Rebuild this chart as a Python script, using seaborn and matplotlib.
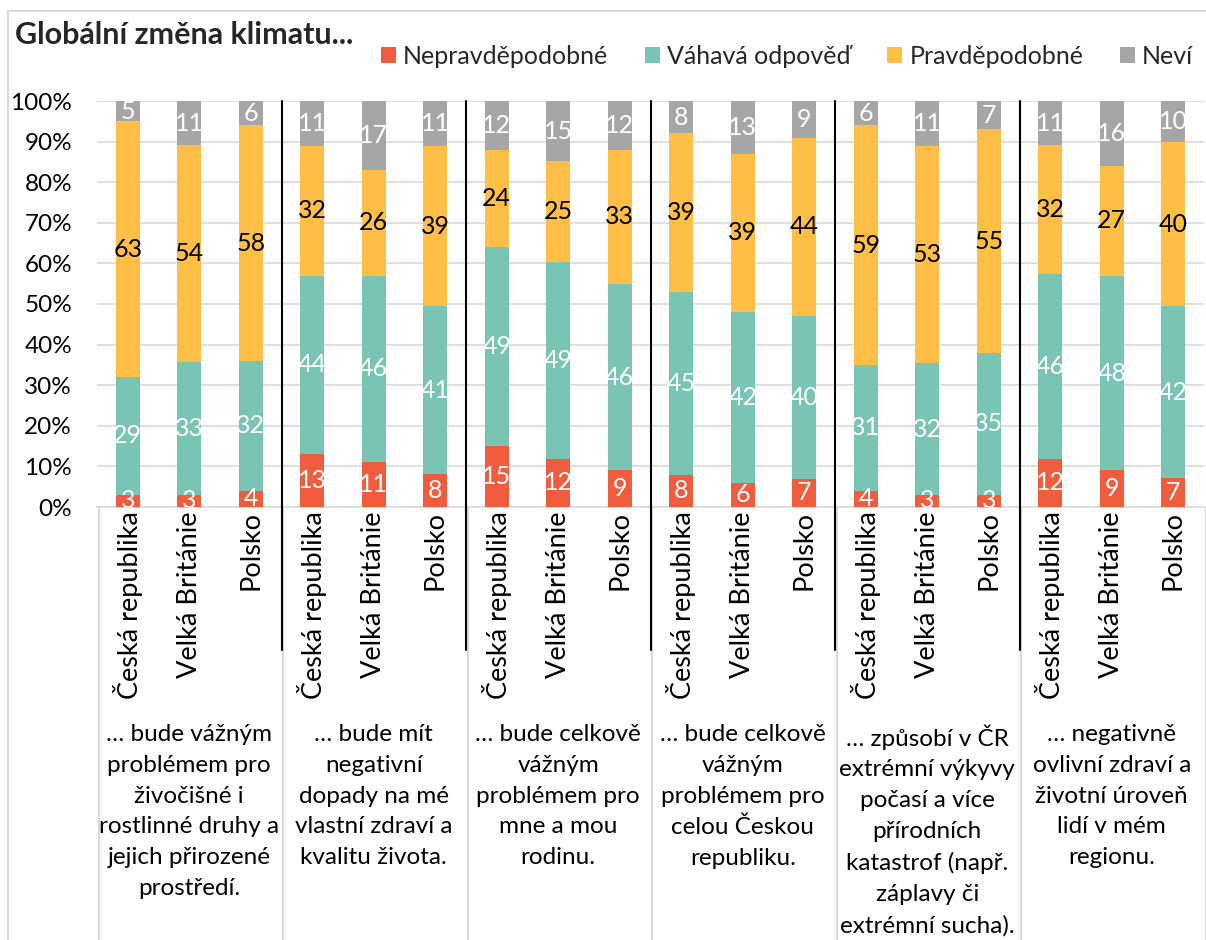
import numpy as np
import pandas as pd
import seaborn as sns
import matplotlib.pyplot as plt
from matplotlib.patches import Patch
from matplotlib.lines import Line2D

# data: bottom -> top (Nepravděpodobné, Váhavá odpověď, Pravděpodobné, Neví)
countries = ['Česká republika', 'Velká Británie', 'Polsko']
groups = ['… bude vážným\nproblémem pro\nživočišné i\nrostlinné druhy a\njejich přirozené\nprostředí.',
          '… bude mít\nnegativní\ndopady na mé\nvlastní zdraví a\nkvalitu života.',
          '… bude celkově\nvážným\nproblémem pro\nmne a mou\nrodinu.',
          '… bude celkově\nvážným\nproblémem pro\ncelou Českou\nrepubliku.',
          '… způsobí v ČR\nextrémní výkyvy\npočasí a více\npřírodních\nkatastrof (např.\nzáplavy či\nextrémní sucha).',
          '… negativně\novlivní zdraví a\nživotní úroveň\nlidí v mém\nregionu.']
series = ['Nepravděpodobné', 'Váhavá odpověď', 'Pravděpodobné', 'Neví']
nepravdepodobne = [3, 3, 4, 13, 11, 8, 15, 12, 9, 8, 6, 7, 4, 3, 3, 12, 9, 7]
vahava = [29, 33, 32, 44, 46, 41, 49, 49, 46, 45, 42, 40, 31, 32, 35, 46, 48, 42]
pravdepodobne = [63, 54, 58, 32, 26, 39, 24, 25, 33, 39, 39, 44, 59, 53, 55, 32, 27, 40]
nevi = [5, 11, 6, 11, 17, 11, 12, 15, 12, 8, 13, 9, 6, 11, 7, 11, 16, 10]

colors = ['#F05C3E', '#7AC4B4', '#FFBF47', '#A6A6A6']
label_colors = ['white', 'white', 'black', 'white']

sns.set_theme(style='white')
plt.rcParams['font.family'] = ['Lato', 'DejaVu Sans']

vals = np.array([nepravdepodobne, vahava, pravdepodobne, nevi], dtype=float)
shares = vals / vals.sum(axis=0) * 100
cum = np.cumsum(shares, axis=0)
bar_ids = [f'{g}_{c}' for g in range(len(groups)) for c in range(len(countries))]

df = pd.DataFrame({'bar': bar_ids})
for i, s in enumerate(series):
    df[s] = cum[i]

fig = plt.figure(figsize=(12.06, 9.40), dpi=100)
ax = fig.add_axes([97 / 1206, 1 - 507 / 940, 1107 / 1206, 406 / 940])

# stacked bars: draw cumulative totals from top to bottom
for i in range(len(series) - 1, -1, -1):
    sns.barplot(data=df, x='bar', y=series[i], order=bar_ids, color=colors[i],
                width=0.39, ax=ax, saturation=1, linewidth=0, zorder=3)

# data labels
for j in range(len(bar_ids)):
    for i in range(len(series)):
        y0 = cum[i][j] - shares[i][j]
        ax.text(j, y0 + shares[i][j] / 2, f'{int(vals[i][j])}', ha='center', va='center',
                fontsize=18, color=label_colors[i], zorder=5, clip_on=True)

ax.set_xlim(-0.5, len(bar_ids) - 0.5)
ax.set_ylim(0, 100)
ax.set_yticks(np.arange(0, 101, 10))
ax.set_yticklabels([f'{t}%' for t in range(0, 101, 10)], fontsize=17.5, color='black')
ax.yaxis.grid(True, color='#D9D9D9', lw=1.2, zorder=0)
ax.set_xticks(range(len(bar_ids)))
ax.set_xticklabels(countries * len(groups), rotation=90, fontsize=19.5, color='black', va='top')
ax.tick_params(axis='both', length=0, pad=3)
ax.tick_params(axis='y', pad=18)
ax.set_xlabel('')
ax.set_ylabel('')
for side in ['left', 'right', 'top']:
    ax.spines[side].set_visible(False)
ax.spines['bottom'].set_color('#D9D9D9')
ax.spines['bottom'].set_linewidth(1.2)

tr = ax.get_xaxis_transform()
for g in range(len(groups) + 1):
    xb = g * 3 - 0.5
    ax.add_line(Line2D([xb + 0.03, xb + 0.03], [-1.1, 0], transform=tr, color='#D9D9D9',
                       lw=1.5, clip_on=False, zorder=1))
    if 0 < g < len(groups):
        ax.add_line(Line2D([xb, xb], [-0.352, 1], transform=tr, color='black',
                           lw=1.5, clip_on=False, zorder=6))
for g, txt in enumerate(groups):
    ax.text(g * 3 + 1, -0.535, txt, transform=tr, ha='center', va='top',
            fontsize=17.5, linespacing=1.57, color='black')

# title, legend, frame
fig.text(15 / 1206, 1 - 35 / 940, 'Globální změna klimatu...', fontsize=22, fontweight='bold',
         va='center', ha='left')
handles = [Patch(facecolor=c, edgecolor='none', label=s) for c, s in zip(colors, series)]
fig.legend(handles=handles, loc='center', bbox_to_anchor=(787 / 1206, 1 - 56 / 940), ncol=4,
           frameon=False, fontsize=18, handlelength=0.6, handleheight=0.6, handletextpad=0.3,
           columnspacing=1.45)
fig.add_artist(Line2D([8 / 1206, 8 / 1206], [0, 1 - 11 / 940], transform=fig.transFigure,
                      color='#D9D9D9', lw=1.5))
fig.add_artist(Line2D([8 / 1206, 1], [1 - 11 / 940, 1 - 11 / 940], transform=fig.transFigure,
                      color='#D9D9D9', lw=1.5))

fig.savefig('out.png', dpi=100)
